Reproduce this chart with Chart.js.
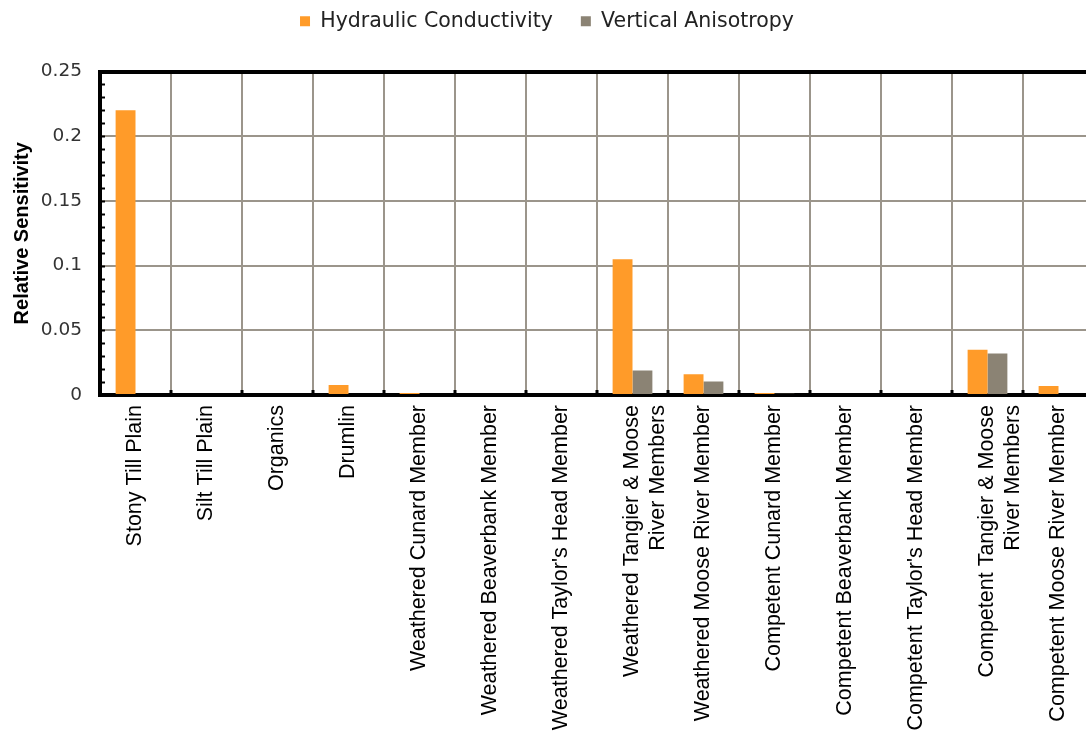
<!DOCTYPE html>
<html>
<head>
<meta charset="utf-8">
<script src="https://cdn.jsdelivr.net/npm/chart.js@4.4.1/dist/chart.umd.min.js"></script>
<style>
  html, body { margin: 0; padding: 0; background: #fff; overflow: hidden; }
  #wrap { width: 1100px; height: 732px; position: relative; }
</style>
</head>
<body>
<div id="wrap"><canvas id="grafico"></canvas></div>
<script>
// categorías y valores
const capas = [
  "Stony Till Plain", "Silt Till Plain", "Organics", "Drumlin",
  "Weathered Cunard Member", "Weathered Beaverbank Member", "Weathered Taylor's Head Member",
  ["Weathered Tangier & Moose", "River Members"], "Weathered Moose River Member",
  "Competent Cunard Member", "Competent Beaverbank Member", "Competent Taylor's Head Member",
  ["Competent Tangier & Moose", "River Members"], "Competent Moose River Member"
];
const conductividad = [0.22, 0, 0, 0.0077, 0.0016, 0, 0, 0.105, 0.016, 0.0015, 0, 0, 0.035, 0.007];
const anisotropia = [0, 0, 0, 0, 0, 0, 0, 0.019, 0.0105, 0.001, 0, 0, 0.032, 0];
const ticksY = [0, 0.05, 0.1, 0.15, 0.2, 0.25];

const NARANJA = "#FF9B29";
const GRIS = "#8B8374";
const REJILLA = "#9B958B";

// marcas pequeñas hacia dentro en los ejes
const marcasEjes = {
  id: "marcasEjes",
  afterDraw(chart) {
    const { ctx, chartArea, scales } = chart;
    const y = scales.y, x = scales.x;
    ctx.save();
    ctx.strokeStyle = "#000";
    ctx.lineWidth = 2;
    for (let v = 0; v <= 0.2501; v += 0.01) {
      const py = Math.round(y.getPixelForValue(v)) + 0.5;
      ctx.beginPath();
      ctx.moveTo(chartArea.left, py);
      ctx.lineTo(chartArea.left + 5, py);
      ctx.stroke();
    }
    ctx.lineWidth = 3;
    for (let i = 1; i < capas.length; i++) {
      const px = (x.getPixelForValue(i - 1) + x.getPixelForValue(i)) / 2;
      ctx.beginPath();
      ctx.moveTo(px, chartArea.bottom);
      ctx.lineTo(px, chartArea.bottom - 5);
      ctx.stroke();
    }
    ctx.restore();
  }
};

new Chart(document.getElementById("grafico"), {
  type: "bar",
  data: {
    labels: capas,
    datasets: [
      { label: "Hydraulic Conductivity", data: conductividad, backgroundColor: NARANJA },
      { label: "Vertical Anisotropy", data: anisotropia, backgroundColor: GRIS }
    ]
  },
  options: {
    responsive: true,
    maintainAspectRatio: false,
    animation: false,
    layout: { padding: { top: -17, left: 0, right: 6, bottom: 0 } },
    datasets: { bar: { categoryPercentage: 0.56, barPercentage: 1 } },
    plugins: {
      legend: {
        position: "top",
        labels: {
          font: { family: "DejaVu Sans", size: 20.5 },
          color: "#222",
          boxWidth: 10,
          boxHeight: 10,
          padding: 28
        }
      },
      tooltip: { enabled: false }
    },
    scales: {
      x: {
        grid: { offset: true, color: REJILLA, lineWidth: 2, drawTicks: false },
        border: { color: "#000", width: 4 },
        ticks: {
          font: { family: "Liberation Sans", size: 21.5 },
          color: "#000",
          minRotation: 90,
          maxRotation: 90,
          autoSkip: false,
          padding: 10
        },
        afterFit(scale) { scale.height = 337; }
      },
      xArriba: {
        type: "category",
        position: "top",
        grid: { display: false, drawOnChartArea: false, drawTicks: false },
        border: { display: true, color: "#000", width: 4 },
        ticks: { display: false },
        afterFit(scale) { scale.height = 30; }
      },
      y: {
        min: 0,
        max: 0.25,
        afterBuildTicks(scale) { scale.ticks = ticksY.map(v => ({ value: v })); },
        grid: { color: REJILLA, lineWidth: 2, drawTicks: false },
        border: { color: "#000", width: 4 },
        ticks: {
          font: { family: "DejaVu Sans", size: 18.5 },
          color: "#333",
          padding: 18,
          callback: v => +v.toFixed(2)
        },
        title: {
          display: true,
          text: "Relative Sensitivity",
          font: { family: "Liberation Sans", size: 20, weight: "bold" },
          color: "#000",
          padding: { top: 10, bottom: 0 }
        },
        afterFit(scale) { scale.width = 100; }
      }
    }
  },
  plugins: [marcasEjes]
});
</script>
</body>
</html>
